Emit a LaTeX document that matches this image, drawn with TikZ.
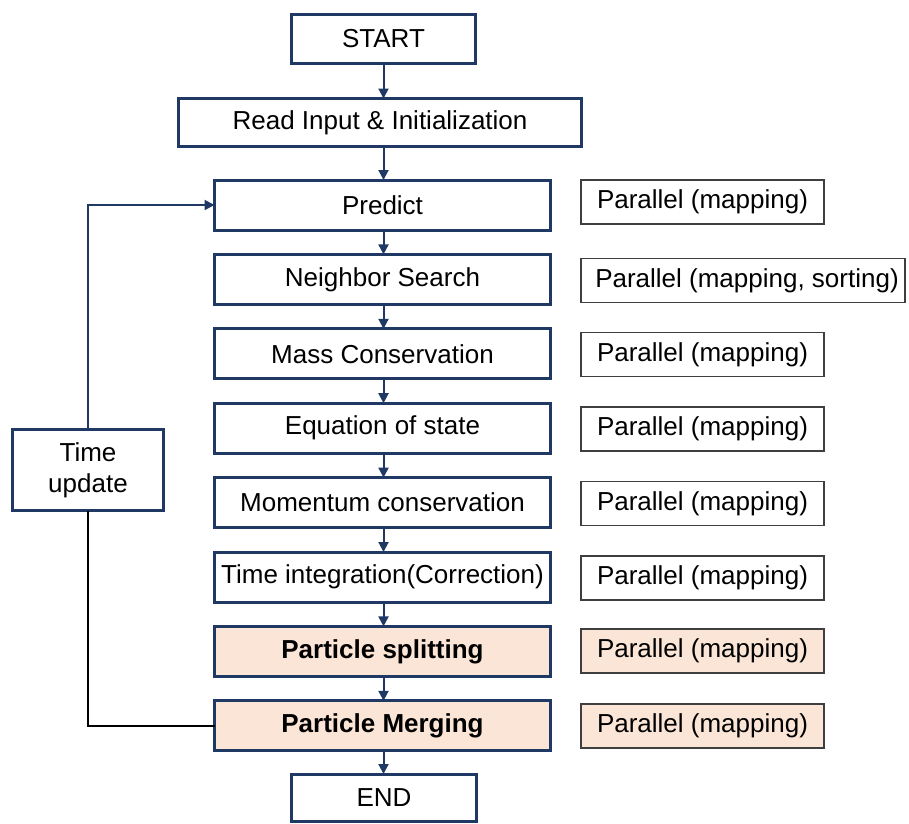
\documentclass[tikz,border=0pt]{standalone}
\usepackage{fontspec}
\setmainfont{Liberation Sans}
\usetikzlibrary{arrows.meta}

\definecolor{navy}{HTML}{1F3864}
\definecolor{peach}{HTML}{FBE5D6}
\definecolor{frame}{HTML}{3F3F3F}

\begin{document}
\begin{tikzpicture}[x=1pt,y=-1pt,
  every node/.style={font=\fontsize{26}{31}\selectfont, text=black, inner sep=0pt, outer sep=0pt},
  stepbox/.style={draw=navy, line width=3pt, minimum height=50pt, minimum width=336pt, fill=white},
  hot/.style={fill=peach, font=\fontsize{26}{31}\selectfont\bfseries},
  notebox/.style={draw=frame, line width=1.3pt, minimum height=44pt, minimum width=243pt, fill=white, anchor=west},
  flow/.style={draw=navy, line width=2pt, -{Triangle[length=10pt,width=10pt]}}
]
\useasboundingbox (0,0) rectangle (909,823);

% main column
\node[stepbox, minimum width=184pt, minimum height=49pt] (start) at (383.5,39) {START};
\node[stepbox, minimum width=403pt, minimum height=48pt] (init) at (380,122.5) {Read Input \& Initialization};
\node[stepbox] (predict)  at (382.5,205.0) {Predict};
\node[stepbox] (search)   at (382.5,279.4) {Neighbor Search};
\node[stepbox] (mass)     at (382.5,353.8) {Mass Conservation};
\node[stepbox] (eos)      at (382.5,428.2) {Equation of state};
\node[stepbox] (momentum) at (382.5,502.6) {Momentum conservation};
\node[stepbox] (integ)    at (382.5,577.0) {Time integration(Correction)};
\node[stepbox, hot] (split) at (382.5,651.4) {Particle splitting};
\node[stepbox, hot] (merge) at (382.5,725.8) {Particle Merging};
\node[stepbox, minimum width=185pt, minimum height=47pt] (finish) at (384,797.5) {END};

% loop box
\node[stepbox, minimum width=151pt, minimum height=81pt, align=center] (tupdate) at (88,470) {Time\\update};

% parallelisation notes
\node[notebox] (n1) at (581,202.0) {Parallel (mapping)};
\node[notebox, minimum width=324pt] (n2) at (581,280.5) {\hspace*{8pt}Parallel (mapping, sorting)};
\node[notebox] (n3) at (581,354.5) {Parallel (mapping)};
\node[notebox] (n4) at (581,429.0) {Parallel (mapping)};
\node[notebox] (n5) at (581,503.5) {Parallel (mapping)};
\node[notebox] (n6) at (581,578.0) {Parallel (mapping)};
\node[notebox, fill=peach] (n7) at (581,651.0) {Parallel (mapping)};
\node[notebox, fill=peach] (n8) at (581,726.0) {Parallel (mapping)};

% connectors
\draw[flow] (start.south) -- (start.south |- init.north);
\draw[flow] (init.south -| start.south) -- (start.south |- predict.north);
\foreach \a/\b in {predict/search, search/mass, mass/eos, eos/momentum,
                   momentum/integ, integ/split, split/merge, merge/finish}
  \draw[flow] (\a.south -| start.south) -- (start.south |- \b.north);

\draw[flow] (tupdate.north) |- (predict.west);
\draw[black, line width=2pt] (tupdate.south) |- (merge.west);
\end{tikzpicture}
\end{document}
